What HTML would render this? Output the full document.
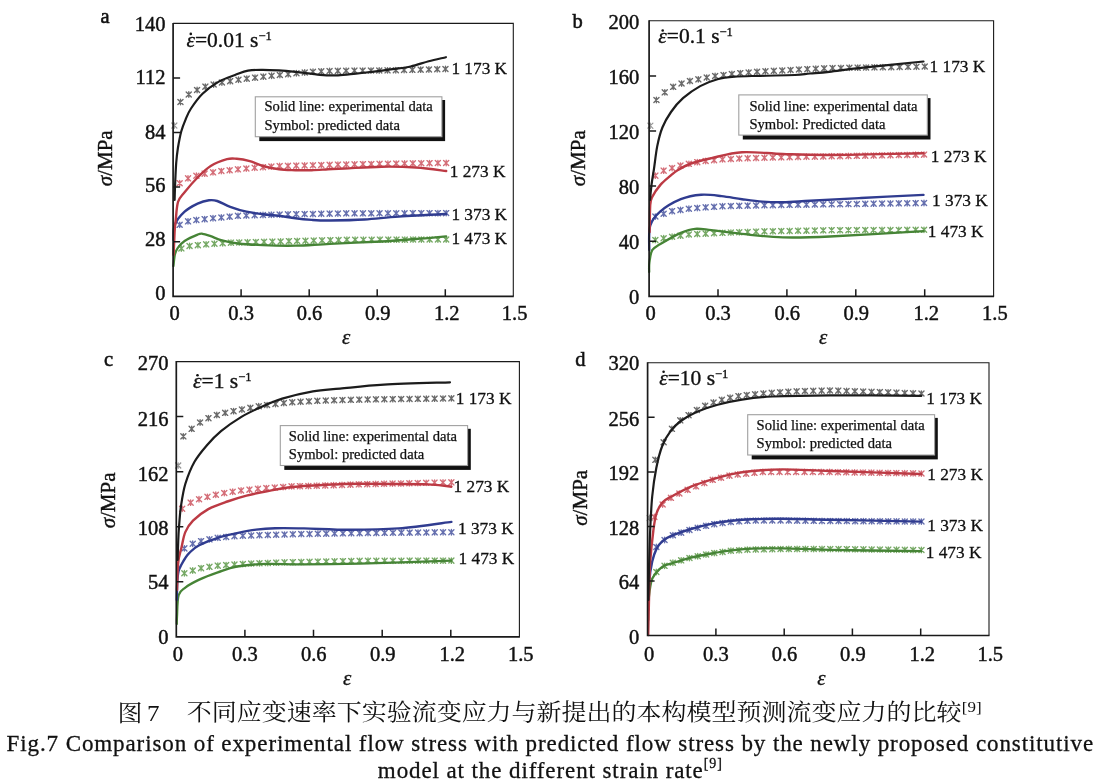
<!DOCTYPE html><html><head><meta charset="utf-8"><title>Fig.7</title><style>
html,body{margin:0;padding:0;background:#fff;}body{width:1104px;height:784px;overflow:hidden;position:relative;}
svg{position:absolute;left:0;top:0;display:block;filter:blur(0.3px);}
.t{font-family:"Liberation Serif", "Times New Roman", serif;fill:#111;}
.cap{position:absolute;left:0;width:1104px;text-align:center;color:#111;white-space:nowrap;}
.cj{font-family:"Liberation Serif", "Noto Serif CJK SC", serif;}
.tl{font-size:20.5px;stroke:#111;stroke-width:0.45px;}
.tc{stroke:#111;stroke-width:0.3px;}
.ti{font-size:21px;font-style:italic;stroke:#111;stroke-width:0.3px;}
.ty{font-size:21px;stroke:#111;stroke-width:0.4px;}
.tk{font-size:20.5px;stroke:#111;stroke-width:0.55px;}
.tr{font-size:21.5px;stroke:#111;stroke-width:0.35px;}
.tg{font-size:14.6px;stroke:#111;stroke-width:0.25px;}
.tt{font-size:17.3px;stroke:#111;stroke-width:0.3px;}
</style></head><body>
<svg width="1104" height="784" viewBox="0 0 1104 784">
<g><path d="M180.5 99.2v5.5M177.9 99.5l5.1 5.1M177.9 104.5l5.1 -5.1M188.8 91.7v5.5M186.2 91.9l5.1 5.1M186.2 97l5.1 -5.1M197.1 87.2v5.5M194.5 87.4l5.1 5.1M194.5 92.5l5.1 -5.1M205.3 83.9v5.5M202.8 84.1l5.1 5.1M202.8 89.2l5.1 -5.1M213.6 81.8v5.5M211.1 82l5.1 5.1M211.1 87.1l5.1 -5.1M221.9 79.8v5.5M219.4 80l5.1 5.1M219.4 85.1l5.1 -5.1M230.2 78.4v5.5M227.6 78.6l5.1 5.1M227.6 83.7l5.1 -5.1M238.5 77v5.5M235.9 77.2l5.1 5.1M235.9 82.3l5.1 -5.1M246.8 75.9v5.5M244.2 76.1l5.1 5.1M244.2 81.2l5.1 -5.1M255 74.9v5.5M252.5 75.1l5.1 5.1M252.5 80.2l5.1 -5.1M263.3 73.9v5.5M260.8 74.1l5.1 5.1M260.8 79.2l5.1 -5.1M271.6 73v5.5M269 73.2l5.1 5.1M269 78.3l5.1 -5.1M279.9 72.2v5.5M277.3 72.4l5.1 5.1M277.3 77.5l5.1 -5.1M288.2 71.4v5.5M285.6 71.6l5.1 5.1M285.6 76.7l5.1 -5.1M296.4 70.5v5.5M293.9 70.7l5.1 5.1M293.9 75.8l5.1 -5.1M304.7 69.7v5.5M302.2 69.9l5.1 5.1M302.2 75l5.1 -5.1M313 69v5.5M310.4 69.2l5.1 5.1M310.4 74.3l5.1 -5.1M321.3 68.6v5.5M318.7 68.8l5.1 5.1M318.7 73.9l5.1 -5.1M329.6 68.2v5.5M327 68.4l5.1 5.1M327 73.5l5.1 -5.1M337.8 68.1v5.5M335.3 68.3l5.1 5.1M335.3 73.4l5.1 -5.1M346.1 68v5.5M343.6 68.2l5.1 5.1M343.6 73.3l5.1 -5.1M354.4 67.9v5.5M351.9 68.1l5.1 5.1M351.9 73.2l5.1 -5.1M362.7 67.9v5.5M360.1 68.1l5.1 5.1M360.1 73.2l5.1 -5.1M371 67.8v5.5M368.4 68l5.1 5.1M368.4 73.1l5.1 -5.1M379.2 67.7v5.5M376.7 67.9l5.1 5.1M376.7 73l5.1 -5.1M387.5 67.6v5.5M385 67.8l5.1 5.1M385 72.9l5.1 -5.1M395.8 67.5v5.5M393.3 67.7l5.1 5.1M393.3 72.8l5.1 -5.1M404.1 67.3v5.5M401.5 67.5l5.1 5.1M401.5 72.6l5.1 -5.1M412.4 67.1v5.5M409.8 67.3l5.1 5.1M409.8 72.4l5.1 -5.1M420.7 66.9v5.5M418.1 67.1l5.1 5.1M418.1 72.2l5.1 -5.1M428.9 66.7v5.5M426.4 66.9l5.1 5.1M426.4 72l5.1 -5.1M437.2 66.5v5.5M434.7 66.7l5.1 5.1M434.7 71.8l5.1 -5.1M445.5 66.2v5.5M442.9 66.5l5.1 5.1M442.9 71.5l5.1 -5.1" fill="none" stroke="#505050" stroke-width="1.35" stroke-linecap="round" opacity="0.85"/><path d="M179.7 180.4v5.5M177.1 180.6l5.1 5.1M177.1 185.8l5.1 -5.1M188 175.6v5.5M185.5 175.8l5.1 5.1M185.5 180.9l5.1 -5.1M196.4 173v5.5M193.8 173.2l5.1 5.1M193.8 178.3l5.1 -5.1M204.7 170.9v5.5M202.1 171.1l5.1 5.1M202.1 176.2l5.1 -5.1M213 169.6v5.5M210.5 169.8l5.1 5.1M210.5 174.9l5.1 -5.1M221.3 168.3v5.5M218.8 168.5l5.1 5.1M218.8 173.6l5.1 -5.1M229.7 167.5v5.5M227.1 167.7l5.1 5.1M227.1 172.8l5.1 -5.1M238 166.6v5.5M235.4 166.8l5.1 5.1M235.4 171.9l5.1 -5.1M246.3 165.8v5.5M243.8 166l5.1 5.1M243.8 171.1l5.1 -5.1M254.7 165v5.5M252.1 165.2l5.1 5.1M252.1 170.3l5.1 -5.1M263 164.4v5.5M260.4 164.6l5.1 5.1M260.4 169.7l5.1 -5.1M271.3 163.8v5.5M268.8 164l5.1 5.1M268.8 169.1l5.1 -5.1M279.6 163.2v5.5M277.1 163.4l5.1 5.1M277.1 168.5l5.1 -5.1M288 163.1v5.5M285.4 163.3l5.1 5.1M285.4 168.4l5.1 -5.1M296.3 162.9v5.5M293.7 163.1l5.1 5.1M293.7 168.2l5.1 -5.1M304.6 162.7v5.5M302.1 162.9l5.1 5.1M302.1 168l5.1 -5.1M312.9 162.5v5.5M310.4 162.7l5.1 5.1M310.4 167.8l5.1 -5.1M321.3 162.3v5.5M318.7 162.5l5.1 5.1M318.7 167.6l5.1 -5.1M329.6 162.1v5.5M327.1 162.3l5.1 5.1M327.1 167.4l5.1 -5.1M337.9 161.9v5.5M335.4 162.1l5.1 5.1M335.4 167.2l5.1 -5.1M346.3 161.7v5.5M343.7 161.9l5.1 5.1M343.7 167l5.1 -5.1M354.6 161.6v5.5M352 161.8l5.1 5.1M352 166.9l5.1 -5.1M362.9 161.4v5.5M360.4 161.6l5.1 5.1M360.4 166.7l5.1 -5.1M371.2 161.3v5.5M368.7 161.5l5.1 5.1M368.7 166.6l5.1 -5.1M379.6 161.1v5.5M377 161.3l5.1 5.1M377 166.4l5.1 -5.1M387.9 161v5.5M385.4 161.2l5.1 5.1M385.4 166.3l5.1 -5.1M396.2 160.8v5.5M393.7 161l5.1 5.1M393.7 166.1l5.1 -5.1M404.6 160.7v5.5M402 160.9l5.1 5.1M402 166l5.1 -5.1M412.9 160.6v5.5M410.3 160.8l5.1 5.1M410.3 165.9l5.1 -5.1M421.2 160.5v5.5M418.7 160.7l5.1 5.1M418.7 165.8l5.1 -5.1M429.5 160.4v5.5M427 160.6l5.1 5.1M427 165.7l5.1 -5.1M437.9 160.3v5.5M435.3 160.5l5.1 5.1M435.3 165.6l5.1 -5.1M446.2 160.2v5.5M443.6 160.4l5.1 5.1M443.6 165.6l5.1 -5.1" fill="none" stroke="#cc5560" stroke-width="1.35" stroke-linecap="round" opacity="0.85"/><path d="M179.7 222.1v5.5M177.1 222.2l5.1 5.1M177.1 227.4l5.1 -5.1M188 218.6v5.5M185.5 218.8l5.1 5.1M185.5 223.9l5.1 -5.1M196.4 217.2v5.5M193.8 217.4l5.1 5.1M193.8 222.5l5.1 -5.1M204.7 216.4v5.5M202.1 216.6l5.1 5.1M202.1 221.7l5.1 -5.1M213 215.5v5.5M210.5 215.7l5.1 5.1M210.5 220.8l5.1 -5.1M221.3 214.7v5.5M218.8 214.9l5.1 5.1M218.8 220l5.1 -5.1M229.7 213.9v5.5M227.1 214.1l5.1 5.1M227.1 219.2l5.1 -5.1M238 213.1v5.5M235.4 213.3l5.1 5.1M235.4 218.4l5.1 -5.1M246.3 212.8v5.5M243.8 213l5.1 5.1M243.8 218.1l5.1 -5.1M254.7 212.5v5.5M252.1 212.7l5.1 5.1M252.1 217.8l5.1 -5.1M263 212.2v5.5M260.4 212.4l5.1 5.1M260.4 217.5l5.1 -5.1M271.3 212v5.5M268.8 212.2l5.1 5.1M268.8 217.3l5.1 -5.1M279.6 211.8v5.5M277.1 212l5.1 5.1M277.1 217.1l5.1 -5.1M288 211.6v5.5M285.4 211.8l5.1 5.1M285.4 216.9l5.1 -5.1M296.3 211.4v5.5M293.7 211.6l5.1 5.1M293.7 216.7l5.1 -5.1M304.6 211.3v5.5M302.1 211.5l5.1 5.1M302.1 216.6l5.1 -5.1M312.9 211.2v5.5M310.4 211.4l5.1 5.1M310.4 216.5l5.1 -5.1M321.3 211v5.5M318.7 211.2l5.1 5.1M318.7 216.3l5.1 -5.1M329.6 210.9v5.5M327.1 211.1l5.1 5.1M327.1 216.2l5.1 -5.1M337.9 210.8v5.5M335.4 211l5.1 5.1M335.4 216.1l5.1 -5.1M346.3 210.6v5.5M343.7 210.8l5.1 5.1M343.7 215.9l5.1 -5.1M354.6 210.6v5.5M352 210.8l5.1 5.1M352 215.9l5.1 -5.1M362.9 210.6v5.5M360.4 210.8l5.1 5.1M360.4 215.9l5.1 -5.1M371.2 210.6v5.5M368.7 210.8l5.1 5.1M368.7 215.9l5.1 -5.1M379.6 210.5v5.5M377 210.7l5.1 5.1M377 215.8l5.1 -5.1M387.9 210.5v5.5M385.4 210.7l5.1 5.1M385.4 215.8l5.1 -5.1M396.2 210.5v5.5M393.7 210.7l5.1 5.1M393.7 215.8l5.1 -5.1M404.6 210.5v5.5M402 210.7l5.1 5.1M402 215.8l5.1 -5.1M412.9 210.4v5.5M410.3 210.6l5.1 5.1M410.3 215.7l5.1 -5.1M421.2 210.4v5.5M418.7 210.6l5.1 5.1M418.7 215.7l5.1 -5.1M429.5 210.4v5.5M427 210.6l5.1 5.1M427 215.7l5.1 -5.1M437.9 210.4v5.5M435.3 210.6l5.1 5.1M435.3 215.7l5.1 -5.1M446.2 210.3v5.5M443.6 210.5l5.1 5.1M443.6 215.7l5.1 -5.1" fill="none" stroke="#4a56a0" stroke-width="1.35" stroke-linecap="round" opacity="0.85"/><path d="M181.3 245.7v5.5M178.8 245.8l5.1 5.1M178.8 251l5.1 -5.1M189.6 243.2v5.5M187 243.4l5.1 5.1M187 248.5l5.1 -5.1M197.9 242.4v5.5M195.3 242.6l5.1 5.1M195.3 247.7l5.1 -5.1M206.1 241.6v5.5M203.6 241.8l5.1 5.1M203.6 246.9l5.1 -5.1M214.4 241v5.5M211.9 241.2l5.1 5.1M211.9 246.3l5.1 -5.1M222.7 240.5v5.5M220.1 240.7l5.1 5.1M220.1 245.8l5.1 -5.1M231 239.9v5.5M228.4 240.1l5.1 5.1M228.4 245.2l5.1 -5.1M239.2 239.7v5.5M236.7 239.9l5.1 5.1M236.7 245l5.1 -5.1M247.5 239.5v5.5M245 239.7l5.1 5.1M245 244.8l5.1 -5.1M255.8 239.3v5.5M253.3 239.5l5.1 5.1M253.3 244.6l5.1 -5.1M264.1 239.1v5.5M261.5 239.3l5.1 5.1M261.5 244.4l5.1 -5.1M272.4 238.9v5.5M269.8 239.1l5.1 5.1M269.8 244.2l5.1 -5.1M280.6 238.7v5.5M278.1 238.9l5.1 5.1M278.1 244l5.1 -5.1M288.9 238.4v5.5M286.4 238.6l5.1 5.1M286.4 243.7l5.1 -5.1M297.2 238.2v5.5M294.6 238.4l5.1 5.1M294.6 243.5l5.1 -5.1M305.5 238v5.5M302.9 238.2l5.1 5.1M302.9 243.3l5.1 -5.1M313.8 237.8v5.5M311.2 238l5.1 5.1M311.2 243.1l5.1 -5.1M322 237.6v5.5M319.5 237.8l5.1 5.1M319.5 242.9l5.1 -5.1M330.3 237.4v5.5M327.8 237.6l5.1 5.1M327.8 242.7l5.1 -5.1M338.6 237.2v5.5M336 237.4l5.1 5.1M336 242.5l5.1 -5.1M346.9 237v5.5M344.3 237.2l5.1 5.1M344.3 242.3l5.1 -5.1M355.1 237v5.5M352.6 237.2l5.1 5.1M352.6 242.3l5.1 -5.1M363.4 237v5.5M360.9 237.2l5.1 5.1M360.9 242.3l5.1 -5.1M371.7 237v5.5M369.1 237.2l5.1 5.1M369.1 242.3l5.1 -5.1M380 236.9v5.5M377.4 237.1l5.1 5.1M377.4 242.2l5.1 -5.1M388.3 236.9v5.5M385.7 237.1l5.1 5.1M385.7 242.2l5.1 -5.1M396.5 236.9v5.5M394 237.1l5.1 5.1M394 242.2l5.1 -5.1M404.8 236.9v5.5M402.3 237.1l5.1 5.1M402.3 242.2l5.1 -5.1M413.1 236.8v5.5M410.5 237l5.1 5.1M410.5 242.1l5.1 -5.1M421.4 236.8v5.5M418.8 237l5.1 5.1M418.8 242.1l5.1 -5.1M429.6 236.8v5.5M427.1 237l5.1 5.1M427.1 242.1l5.1 -5.1M437.9 236.8v5.5M435.4 237l5.1 5.1M435.4 242.1l5.1 -5.1M446.2 236.8v5.5M443.6 236.9l5.1 5.1M443.6 242.1l5.1 -5.1" fill="none" stroke="#5e9a4a" stroke-width="1.35" stroke-linecap="round" opacity="0.85"/><path d="M174.3 122.8v5.5M171.8 123l5.1 5.1M171.8 128.1l5.1 -5.1M174.3 122.8v5.5M171.8 123l5.1 5.1M171.8 128.1l5.1 -5.1" fill="none" stroke="#505050" stroke-width="1.2" stroke-linecap="round" opacity="0.6"/><path d="M173.4 266C173.7 264 174.2 257.1 175 254C175.8 250.9 176.4 249.8 178 247.6C179.6 245.4 181.3 243.2 184.6 241C187.9 238.8 194.6 235.8 197.6 234.6C200.6 233.4 200.3 233.5 202.5 233.8C204.7 234.1 207.4 235.1 210.7 236.2C213.9 237.3 217.4 239.1 222 240.3C226.6 241.5 231.6 242.7 238.4 243.5C245.2 244.3 253.3 244.8 262.8 245.2C272.3 245.6 284.2 245.9 295.4 245.7C306.6 245.5 315.6 244.5 330 243.8C344.4 243.1 367.3 242.3 381.6 241.5C395.9 240.7 405.2 239.8 416 239C426.8 238.2 441.2 236.8 446.2 236.4" fill="none" stroke="#468436" stroke-width="2.3" stroke-linejoin="round" stroke-linecap="round"/><path d="M173.5 240C173.7 237.5 173 229.5 174.8 224.8C176.7 220.1 180.8 215.2 184.6 211.7C188.4 208.2 193.5 205.5 197.6 203.6C201.7 201.7 205.7 200.7 209 200.3C212.3 199.9 213.7 199.9 217.2 201C220.7 202.1 225.3 205 230.2 206.8C235.1 208.6 241.1 210.5 246.5 211.7C251.9 212.9 257.4 213.5 262.8 214.2C268.2 214.9 273.6 215.1 279 215.8C284.4 216.5 289.9 217.6 295.4 218.3C300.8 219 305.9 219.5 311.7 219.9C317.5 220.3 321.2 220.6 330 220.5C338.8 220.4 352.9 220.2 364.4 219.5C375.9 218.8 385.2 217.5 398.8 216.6C412.4 215.7 438.3 214.4 446.2 214" fill="none" stroke="#303c90" stroke-width="2.4" stroke-linejoin="round" stroke-linecap="round"/><path d="M173.6 255C173.8 251.2 174.3 237.6 174.6 232C174.9 226.4 175 226.5 175.6 221.5C176.2 216.5 176.5 206.9 178 202C179.5 197.1 181.3 196.3 184.6 192.2C187.9 188.1 193.2 181.9 197.6 177.5C201.9 173.1 205.8 169.1 210.7 166C215.6 162.9 222.7 160.4 227 159.2C231.3 158 232.9 158.5 236.7 158.8C240.5 159.1 245.5 160 249.8 161.2C254.2 162.4 257.9 164.7 262.8 166C267.7 167.3 273.6 168.6 279 169.3C284.4 170 289.9 170 295.4 170.2C300.8 170.3 306.3 170.3 311.7 170.2C317.1 170 322.6 169.6 328 169.3C333.4 169 335.5 168.9 344.4 168.5C353.3 168.1 369.7 166.9 381.6 166.7C393.5 166.5 405.2 166.8 416 167.5C426.8 168.2 441.2 170.4 446.2 171" fill="none" stroke="#bc3a44" stroke-width="2.4" stroke-linejoin="round" stroke-linecap="round"/><path d="M174.6 200C174.7 196.7 175 186.2 175.3 180C175.6 173.8 175.8 168.3 176.2 163C176.6 157.7 177.1 153.3 177.9 148C178.8 142.7 180 136.1 181.3 131.3C182.6 126.5 184.2 122.8 185.8 119C187.4 115.2 188.2 112.7 191 108.5C193.8 104.3 197.9 98.3 202.5 93.8C207.1 89.3 213.4 84.7 218.8 81.6C224.2 78.5 230.1 76.8 235 75C239.9 73.2 243.4 71.5 248 70.6C252.6 69.7 257.6 69.8 262.8 69.8C268 69.8 273.6 70.1 279 70.4C284.4 70.7 288.6 71.1 295.4 71.8C302.2 72.5 312.9 74.2 320 74.8C327.1 75.4 332 75.5 338 75.3C344 75.1 350 74.2 356 73.6C362 73 367.9 72.4 374 71.7C380.1 71 386.4 70.1 392.5 69.2C398.6 68.3 404.6 67.8 410.6 66.5C416.6 65.2 422.8 62.8 428.7 61.2C434.6 59.7 443 57.9 445.9 57.2" fill="none" stroke="#1c1c1c" stroke-width="2.2" stroke-linejoin="round" stroke-linecap="round"/><path d="M173.1 23.4H513.3 V296.3" fill="none" stroke="#1a1a1a" stroke-width="1.1"/><path d="M173.1 22.9V296.3H513.8" fill="none" stroke="#1a1a1a" stroke-width="1.7"/><path d="M173.1 241.7h7M173.1 187.1h7M173.1 132.6h7M173.1 78h7M241.1 296.3v-7M309.2 296.3v-7M377.2 296.3v-7M445.3 296.3v-7" stroke="#1a1a1a" stroke-width="1.5" fill="none"/><text class="t tl" x="165.6" y="300.4" text-anchor="end">0</text><text class="t tl" x="165.6" y="246.1" text-anchor="end">28</text><text class="t tl" x="165.6" y="192.3" text-anchor="end">56</text><text class="t tl" x="165.6" y="138.7" text-anchor="end">84</text><text class="t tl" x="165.6" y="84.4" text-anchor="end">112</text><text class="t tl" x="165.6" y="30.8" text-anchor="end">140</text><text class="t tl" x="174.6" y="319.7" text-anchor="middle">0</text><text class="t tl" x="241.1" y="319.7" text-anchor="middle">0.3</text><text class="t tl" x="309.5" y="319.7" text-anchor="middle">0.6</text><text class="t tl" x="377.7" y="319.7" text-anchor="middle">0.9</text><text class="t tl" x="446.8" y="319.7" text-anchor="middle">1.2</text><text class="t tl" x="514.6" y="319.7" text-anchor="middle">1.5</text><text class="t ti" x="342.1" y="344">ε</text><text class="t ty" x="112" y="158.3" text-anchor="middle" transform="rotate(-90 112 158.3)"><tspan font-style="italic">σ</tspan>/MPa</text><text class="t tk" x="100.6" y="23.2">a</text><text class="t tr" x="186.4" y="46.6"><tspan font-style="italic">ε</tspan>=0.01 s<tspan font-size="12.5" dy="-6.8">−1</tspan></text><circle cx="190.8" cy="33.9" r="1.3" fill="#111"/><rect x="259.3" y="100" width="185.8" height="41.1" fill="#111"/><rect x="255.3" y="96.8" width="186.6" height="39.9" fill="#fff" stroke="#a0a0a0" stroke-width="1.1"/><text class="t tg" x="264.5" y="111.3">Solid line: experimental data</text><text class="t tg" x="264.5" y="129.8">Symbol: predicted data</text><text class="t tt" x="451.4" y="74">1 173 K</text><text class="t tt" x="449.7" y="176.5">1 273 K</text><text class="t tt" x="451.4" y="219.5">1 373 K</text><text class="t tt" x="451.4" y="244.1">1 473 K</text></g>
<g><path d="M656.4 97.2v5.5M653.9 97.4l5.1 5.1M653.9 102.5l5.1 -5.1M664.8 89.6v5.5M662.2 89.8l5.1 5.1M662.2 94.9l5.1 -5.1M673.2 84.1v5.5M670.6 84.3l5.1 5.1M670.6 89.4l5.1 -5.1M681.6 80.8v5.5M679 81l5.1 5.1M679 86.1l5.1 -5.1M689.9 78.2v5.5M687.4 78.4l5.1 5.1M687.4 83.5l5.1 -5.1M698.3 76.6v5.5M695.8 76.8l5.1 5.1M695.8 81.9l5.1 -5.1M706.7 74.8v5.5M704.2 75l5.1 5.1M704.2 80.1l5.1 -5.1M715.1 73.2v5.5M712.6 73.4l5.1 5.1M712.6 78.5l5.1 -5.1M723.5 72.3v5.5M721 72.5l5.1 5.1M721 77.6l5.1 -5.1M731.9 71.2v5.5M729.3 71.4l5.1 5.1M729.3 76.5l5.1 -5.1M740.3 70.4v5.5M737.7 70.6l5.1 5.1M737.7 75.7l5.1 -5.1M748.7 69.7v5.5M746.1 69.9l5.1 5.1M746.1 75l5.1 -5.1M757 69v5.5M754.5 69.2l5.1 5.1M754.5 74.3l5.1 -5.1M765.4 68.5v5.5M762.9 68.7l5.1 5.1M762.9 73.8l5.1 -5.1M773.8 68.1v5.5M771.3 68.3l5.1 5.1M771.3 73.4l5.1 -5.1M782.2 67.7v5.5M779.7 67.9l5.1 5.1M779.7 73l5.1 -5.1M790.6 67.3v5.5M788 67.5l5.1 5.1M788 72.6l5.1 -5.1M799 66.8v5.5M796.4 67l5.1 5.1M796.4 72.1l5.1 -5.1M807.4 66.4v5.5M804.8 66.6l5.1 5.1M804.8 71.7l5.1 -5.1M815.8 66v5.5M813.2 66.2l5.1 5.1M813.2 71.3l5.1 -5.1M824.1 65.6v5.5M821.6 65.8l5.1 5.1M821.6 70.9l5.1 -5.1M832.5 65.3v5.5M830 65.5l5.1 5.1M830 70.6l5.1 -5.1M840.9 65.2v5.5M838.4 65.4l5.1 5.1M838.4 70.5l5.1 -5.1M849.3 65v5.5M846.8 65.2l5.1 5.1M846.8 70.3l5.1 -5.1M857.7 64.9v5.5M855.1 65.1l5.1 5.1M855.1 70.2l5.1 -5.1M866.1 64.8v5.5M863.5 65l5.1 5.1M863.5 70.1l5.1 -5.1M874.5 64.6v5.5M871.9 64.8l5.1 5.1M871.9 69.9l5.1 -5.1M882.9 64.5v5.5M880.3 64.7l5.1 5.1M880.3 69.8l5.1 -5.1M891.2 64.4v5.5M888.7 64.6l5.1 5.1M888.7 69.7l5.1 -5.1M899.6 64.2v5.5M897.1 64.4l5.1 5.1M897.1 69.5l5.1 -5.1M908 64.1v5.5M905.5 64.3l5.1 5.1M905.5 69.4l5.1 -5.1M916.4 64v5.5M913.9 64.2l5.1 5.1M913.9 69.3l5.1 -5.1M924.8 63.8v5.5M922.2 64l5.1 5.1M922.2 69.1l5.1 -5.1" fill="none" stroke="#505050" stroke-width="1.35" stroke-linecap="round" opacity="0.85"/><path d="M655.3 172.9v5.5M652.8 173.1l5.1 5.1M652.8 178.2l5.1 -5.1M663.7 167.9v5.5M661.1 168.1l5.1 5.1M661.1 173.2l5.1 -5.1M672.1 165.3v5.5M669.5 165.5l5.1 5.1M669.5 170.6l5.1 -5.1M680.5 162.8v5.5M677.9 163l5.1 5.1M677.9 168.1l5.1 -5.1M688.9 161.1v5.5M686.3 161.3l5.1 5.1M686.3 166.4l5.1 -5.1M697.3 159.4v5.5M694.7 159.6l5.1 5.1M694.7 164.7l5.1 -5.1M705.7 158.2v5.5M703.1 158.4l5.1 5.1M703.1 163.5l5.1 -5.1M714.1 157.4v5.5M711.5 157.6l5.1 5.1M711.5 162.7l5.1 -5.1M722.5 156.6v5.5M719.9 156.8l5.1 5.1M719.9 161.9l5.1 -5.1M730.9 156.2v5.5M728.3 156.4l5.1 5.1M728.3 161.5l5.1 -5.1M739.3 155.8v5.5M736.7 156l5.1 5.1M736.7 161.1l5.1 -5.1M747.7 155.5v5.5M745.1 155.7l5.1 5.1M745.1 160.8l5.1 -5.1M756.1 155.3v5.5M753.5 155.5l5.1 5.1M753.5 160.6l5.1 -5.1M764.5 155v5.5M761.9 155.2l5.1 5.1M761.9 160.3l5.1 -5.1M772.9 154.8v5.5M770.3 155l5.1 5.1M770.3 160.1l5.1 -5.1M781.3 154.6v5.5M778.7 154.8l5.1 5.1M778.7 159.9l5.1 -5.1M789.6 154.4v5.5M787.1 154.6l5.1 5.1M787.1 159.7l5.1 -5.1M798 154.2v5.5M795.5 154.4l5.1 5.1M795.5 159.5l5.1 -5.1M806.4 154v5.5M803.9 154.2l5.1 5.1M803.9 159.3l5.1 -5.1M814.8 153.9v5.5M812.3 154.1l5.1 5.1M812.3 159.2l5.1 -5.1M823.2 153.7v5.5M820.7 153.9l5.1 5.1M820.7 159l5.1 -5.1M831.6 153.5v5.5M829.1 153.7l5.1 5.1M829.1 158.8l5.1 -5.1M840 153.4v5.5M837.5 153.6l5.1 5.1M837.5 158.7l5.1 -5.1M848.4 153.2v5.5M845.9 153.4l5.1 5.1M845.9 158.5l5.1 -5.1M856.8 153.1v5.5M854.3 153.3l5.1 5.1M854.3 158.4l5.1 -5.1M865.2 152.9v5.5M862.7 153.1l5.1 5.1M862.7 158.2l5.1 -5.1M873.6 152.8v5.5M871.1 153l5.1 5.1M871.1 158.1l5.1 -5.1M882 152.6v5.5M879.5 152.8l5.1 5.1M879.5 157.9l5.1 -5.1M890.4 152.5v5.5M887.9 152.7l5.1 5.1M887.9 157.8l5.1 -5.1M898.8 152.3v5.5M896.3 152.5l5.1 5.1M896.3 157.6l5.1 -5.1M907.2 152.2v5.5M904.7 152.4l5.1 5.1M904.7 157.5l5.1 -5.1M915.6 152v5.5M913.1 152.2l5.1 5.1M913.1 157.3l5.1 -5.1M924 151.8v5.5M921.5 152l5.1 5.1M921.5 157.2l5.1 -5.1" fill="none" stroke="#cc5560" stroke-width="1.35" stroke-linecap="round" opacity="0.85"/><path d="M655.3 213.8v5.5M652.8 213.9l5.1 5.1M652.8 219.1l5.1 -5.1M663.7 211v5.5M661.1 211.2l5.1 5.1M661.1 216.3l5.1 -5.1M672.1 208.4v5.5M669.5 208.6l5.1 5.1M669.5 213.7l5.1 -5.1M680.5 207.2v5.5M677.9 207.4l5.1 5.1M677.9 212.5l5.1 -5.1M688.9 206v5.5M686.3 206.2l5.1 5.1M686.3 211.3l5.1 -5.1M697.3 205.2v5.5M694.7 205.4l5.1 5.1M694.7 210.5l5.1 -5.1M705.7 204.6v5.5M703.1 204.8l5.1 5.1M703.1 209.9l5.1 -5.1M714.1 204.1v5.5M711.5 204.3l5.1 5.1M711.5 209.4l5.1 -5.1M722.5 203.5v5.5M719.9 203.7l5.1 5.1M719.9 208.8l5.1 -5.1M730.9 203.3v5.5M728.3 203.5l5.1 5.1M728.3 208.6l5.1 -5.1M739.3 203.1v5.5M736.7 203.3l5.1 5.1M736.7 208.4l5.1 -5.1M747.7 202.9v5.5M745.1 203.1l5.1 5.1M745.1 208.2l5.1 -5.1M756.1 202.7v5.5M753.5 202.9l5.1 5.1M753.5 208l5.1 -5.1M764.5 202.5v5.5M761.9 202.7l5.1 5.1M761.9 207.8l5.1 -5.1M772.9 202.4v5.5M770.3 202.6l5.1 5.1M770.3 207.7l5.1 -5.1M781.3 202.3v5.5M778.7 202.5l5.1 5.1M778.7 207.6l5.1 -5.1M789.6 202.1v5.5M787.1 202.3l5.1 5.1M787.1 207.4l5.1 -5.1M798 202v5.5M795.5 202.2l5.1 5.1M795.5 207.3l5.1 -5.1M806.4 201.9v5.5M803.9 202.1l5.1 5.1M803.9 207.2l5.1 -5.1M814.8 201.8v5.5M812.3 202l5.1 5.1M812.3 207.1l5.1 -5.1M823.2 201.6v5.5M820.7 201.8l5.1 5.1M820.7 206.9l5.1 -5.1M831.6 201.5v5.5M829.1 201.7l5.1 5.1M829.1 206.8l5.1 -5.1M840 201.4v5.5M837.5 201.6l5.1 5.1M837.5 206.7l5.1 -5.1M848.4 201.3v5.5M845.9 201.5l5.1 5.1M845.9 206.6l5.1 -5.1M856.8 201.2v5.5M854.3 201.4l5.1 5.1M854.3 206.5l5.1 -5.1M865.2 201.1v5.5M862.7 201.3l5.1 5.1M862.7 206.4l5.1 -5.1M873.6 200.9v5.5M871.1 201.1l5.1 5.1M871.1 206.2l5.1 -5.1M882 200.8v5.5M879.5 201l5.1 5.1M879.5 206.1l5.1 -5.1M890.4 200.7v5.5M887.9 200.9l5.1 5.1M887.9 206l5.1 -5.1M898.8 200.6v5.5M896.3 200.8l5.1 5.1M896.3 205.9l5.1 -5.1M907.2 200.5v5.5M904.7 200.7l5.1 5.1M904.7 205.8l5.1 -5.1M915.6 200.4v5.5M913.1 200.6l5.1 5.1M913.1 205.7l5.1 -5.1M924 200.2v5.5M921.5 200.4l5.1 5.1M921.5 205.6l5.1 -5.1" fill="none" stroke="#4a56a0" stroke-width="1.35" stroke-linecap="round" opacity="0.85"/><path d="M655.3 237.2v5.5M652.8 237.4l5.1 5.1M652.8 242.6l5.1 -5.1M663.7 235.5v5.5M661.1 235.7l5.1 5.1M661.1 240.8l5.1 -5.1M672.1 234v5.5M669.5 234.2l5.1 5.1M669.5 239.3l5.1 -5.1M680.5 232.9v5.5M677.9 233.1l5.1 5.1M677.9 238.2l5.1 -5.1M688.9 231.8v5.5M686.3 232l5.1 5.1M686.3 237.1l5.1 -5.1M697.3 231.3v5.5M694.7 231.5l5.1 5.1M694.7 236.6l5.1 -5.1M705.7 230.9v5.5M703.1 231.1l5.1 5.1M703.1 236.2l5.1 -5.1M714.1 230.5v5.5M711.5 230.7l5.1 5.1M711.5 235.8l5.1 -5.1M722.5 230.1v5.5M719.9 230.3l5.1 5.1M719.9 235.4l5.1 -5.1M730.9 229.8v5.5M728.3 230l5.1 5.1M728.3 235.1l5.1 -5.1M739.3 229.5v5.5M736.7 229.7l5.1 5.1M736.7 234.8l5.1 -5.1M747.7 229.2v5.5M745.1 229.4l5.1 5.1M745.1 234.5l5.1 -5.1M756.1 228.9v5.5M753.5 229.1l5.1 5.1M753.5 234.2l5.1 -5.1M764.5 228.6v5.5M761.9 228.8l5.1 5.1M761.9 233.9l5.1 -5.1M772.9 228.5v5.5M770.3 228.7l5.1 5.1M770.3 233.8l5.1 -5.1M781.3 228.3v5.5M778.7 228.5l5.1 5.1M778.7 233.6l5.1 -5.1M789.6 228.2v5.5M787.1 228.4l5.1 5.1M787.1 233.5l5.1 -5.1M798 228v5.5M795.5 228.2l5.1 5.1M795.5 233.3l5.1 -5.1M806.4 227.9v5.5M803.9 228.1l5.1 5.1M803.9 233.2l5.1 -5.1M814.8 227.7v5.5M812.3 227.9l5.1 5.1M812.3 233l5.1 -5.1M823.2 227.6v5.5M820.7 227.8l5.1 5.1M820.7 232.9l5.1 -5.1M831.6 227.4v5.5M829.1 227.6l5.1 5.1M829.1 232.7l5.1 -5.1M840 227.4v5.5M837.5 227.6l5.1 5.1M837.5 232.7l5.1 -5.1M848.4 227.4v5.5M845.9 227.6l5.1 5.1M845.9 232.7l5.1 -5.1M856.8 227.3v5.5M854.3 227.5l5.1 5.1M854.3 232.6l5.1 -5.1M865.2 227.3v5.5M862.7 227.5l5.1 5.1M862.7 232.6l5.1 -5.1M873.6 227.3v5.5M871.1 227.5l5.1 5.1M871.1 232.6l5.1 -5.1M882 227.2v5.5M879.5 227.4l5.1 5.1M879.5 232.5l5.1 -5.1M890.4 227.2v5.5M887.9 227.4l5.1 5.1M887.9 232.5l5.1 -5.1M898.8 227.2v5.5M896.3 227.4l5.1 5.1M896.3 232.5l5.1 -5.1M907.2 227.1v5.5M904.7 227.3l5.1 5.1M904.7 232.4l5.1 -5.1M915.6 227.1v5.5M913.1 227.3l5.1 5.1M913.1 232.4l5.1 -5.1M924 227.1v5.5M921.5 227.2l5.1 5.1M921.5 232.4l5.1 -5.1" fill="none" stroke="#5e9a4a" stroke-width="1.35" stroke-linecap="round" opacity="0.85"/><path d="M650.3 123v5.5M647.8 123.2l5.1 5.1M647.8 128.2l5.1 -5.1M650.3 123v5.5M647.8 123.2l5.1 5.1M647.8 128.2l5.1 -5.1" fill="none" stroke="#505050" stroke-width="1.2" stroke-linecap="round" opacity="0.6"/><path d="M649.2 272C649.2 270.4 648.9 266 649.4 262.4C649.9 258.8 650.4 253.2 652.2 250.2C654 247.1 655.6 247 660.4 244.1C665.2 241.2 675 235.4 680.8 232.9C686.6 230.4 690 229.2 695.1 228.8C700.2 228.4 703.6 229.3 711.4 230.2C719.2 231 730.1 232.7 742 233.9C753.9 235.1 768.3 237 782.9 237.4C797.5 237.8 806.4 237.6 829.8 236.5C853.2 235.4 907.9 232 923.5 231.1" fill="none" stroke="#468436" stroke-width="2.3" stroke-linejoin="round" stroke-linecap="round"/><path d="M649.3 250C649.4 245.9 648.4 232.1 650.2 225.7C652.1 219.3 655.3 215.8 660.4 211.4C665.5 207 674 202 680.8 199.2C687.6 196.4 694.4 195.2 701.2 194.7C708 194.2 714.8 195.3 721.6 196.1C728.4 196.8 735.2 198.3 742 199.2C748.8 200.1 755.6 201.1 762.4 201.6C769.2 202.1 775 202.3 782.9 202.2C790.8 202.1 797 201.5 810 200.8C823 200.1 842.1 199 861 198C879.9 197 913.1 195.4 923.5 194.9" fill="none" stroke="#303c90" stroke-width="2.4" stroke-linejoin="round" stroke-linecap="round"/><path d="M649.6 232C649.7 227.6 649.8 211.1 650.2 205.3C650.6 199.5 650.5 200.4 652.2 197C653.9 193.6 657.3 188.5 660.4 184.9C663.5 181.3 667.7 178.2 670.6 175.7C673.5 173.2 674.5 172 677.9 170C681.3 168 685.4 165.5 691 163.5C696.6 161.5 702.9 160.1 711.4 158.2C719.9 156.3 730.1 152.9 742 152.2C753.9 151.5 768.3 153.5 782.9 154C797.5 154.5 806.4 155.1 829.8 155C853.2 154.9 907.9 153.6 923.5 153.3" fill="none" stroke="#bc3a44" stroke-width="2.4" stroke-linejoin="round" stroke-linecap="round"/><path d="M650 200C650.2 197.5 650.9 190 651.5 185C652.1 180 652.8 176.4 653.8 170C654.8 163.6 655.8 153.5 657.2 146.4C658.6 139.3 660.1 133.2 662.4 127.5C664.7 121.8 667.6 116.9 671 112C674.4 107.1 678.1 102.5 683 98.2C687.9 93.9 694.5 89.2 700.2 86.1C706 82.9 711.8 80.9 717.5 79.3C723.2 77.7 727.5 77.3 734.7 76.7C741.9 76.1 750.5 76.1 760.5 75.8C770.5 75.5 786.6 75.4 794.9 75C803.1 74.6 804.3 74 810 73.5C815.7 73 820.8 72.7 829.3 71.8C837.8 70.9 845.3 69.6 861 67.9C876.7 66.2 913.1 62.6 923.5 61.5" fill="none" stroke="#1c1c1c" stroke-width="2.2" stroke-linejoin="round" stroke-linecap="round"/><path d="M649.1 20.8H993.6 V296.3" fill="none" stroke="#1a1a1a" stroke-width="1.1"/><path d="M649.1 20.3V296.3H994.1" fill="none" stroke="#1a1a1a" stroke-width="1.7"/><path d="M649.1 241.2h7M649.1 186.1h7M649.1 131h7M649.1 75.9h7M718 296.3v-7M786.9 296.3v-7M855.8 296.3v-7M924.7 296.3v-7" stroke="#1a1a1a" stroke-width="1.5" fill="none"/><text class="t tl" x="639.3" y="303.5" text-anchor="end">0</text><text class="t tl" x="639.3" y="249" text-anchor="end">40</text><text class="t tl" x="639.3" y="193.9" text-anchor="end">80</text><text class="t tl" x="639.3" y="138.9" text-anchor="end">120</text><text class="t tl" x="639.3" y="83.7" text-anchor="end">160</text><text class="t tl" x="639.3" y="28.7" text-anchor="end">200</text><text class="t tl" x="650.6" y="319.8" text-anchor="middle">0</text><text class="t tl" x="718" y="319.8" text-anchor="middle">0.3</text><text class="t tl" x="787.2" y="319.8" text-anchor="middle">0.6</text><text class="t tl" x="856.3" y="319.8" text-anchor="middle">0.9</text><text class="t tl" x="926.2" y="319.8" text-anchor="middle">1.2</text><text class="t tl" x="994.9" y="319.8" text-anchor="middle">1.5</text><text class="t ti" x="819" y="343.9">ε</text><text class="t ty" x="584.7" y="158.2" text-anchor="middle" transform="rotate(-90 584.7 158.2)"><tspan font-style="italic">σ</tspan>/MPa</text><text class="t tk" x="572.4" y="27.6">b</text><text class="t tr" x="658.3" y="43.2"><tspan font-style="italic">ε</tspan>=0.1 s<tspan font-size="12.5" dy="-6.8">−1</tspan></text><circle cx="662.7" cy="30.5" r="1.3" fill="#111"/><rect x="742.8" y="98.1" width="187.7" height="41.4" fill="#111"/><rect x="738.8" y="94.9" width="188.5" height="40.2" fill="#fff" stroke="#a0a0a0" stroke-width="1.1"/><text class="t tg" x="749.4" y="110.6">Solid line: experimental data</text><text class="t tg" x="749.4" y="129.1">Symbol: Predicted data</text><text class="t tt" x="929.6" y="71.7">1 173 K</text><text class="t tt" x="930.8" y="162.2">1 273 K</text><text class="t tt" x="932.1" y="206.1">1 373 K</text><text class="t tt" x="927.8" y="236.7">1 473 K</text></g>
<g><path d="M183.3 433.6v5.5M180.8 433.8l5.1 5.1M180.8 438.9l5.1 -5.1M191.7 426.1v5.5M189.1 426.3l5.1 5.1M189.1 431.4l5.1 -5.1M200.1 419.7v5.5M197.5 419.9l5.1 5.1M197.5 425l5.1 -5.1M208.4 415.4v5.5M205.9 415.6l5.1 5.1M205.9 420.7l5.1 -5.1M216.8 412.2v5.5M214.3 412.4l5.1 5.1M214.3 417.5l5.1 -5.1M225.2 410.1v5.5M222.6 410.3l5.1 5.1M222.6 415.4l5.1 -5.1M233.6 408.4v5.5M231 408.6l5.1 5.1M231 413.7l5.1 -5.1M241.9 406.7v5.5M239.4 406.9l5.1 5.1M239.4 412l5.1 -5.1M250.3 405.1v5.5M247.8 405.3l5.1 5.1M247.8 410.4l5.1 -5.1M258.7 403.5v5.5M256.2 403.7l5.1 5.1M256.2 408.8l5.1 -5.1M267.1 402.3v5.5M264.5 402.5l5.1 5.1M264.5 407.6l5.1 -5.1M275.5 401.2v5.5M272.9 401.4l5.1 5.1M272.9 406.5l5.1 -5.1M283.8 400.3v5.5M281.3 400.5l5.1 5.1M281.3 405.6l5.1 -5.1M292.2 399.5v5.5M289.7 399.7l5.1 5.1M289.7 404.8l5.1 -5.1M300.6 399v5.5M298 399.2l5.1 5.1M298 404.3l5.1 -5.1M309 398.6v5.5M306.4 398.8l5.1 5.1M306.4 403.9l5.1 -5.1M317.4 398.1v5.5M314.8 398.3l5.1 5.1M314.8 403.4l5.1 -5.1M325.7 397.8v5.5M323.2 398l5.1 5.1M323.2 403.1l5.1 -5.1M334.1 397.5v5.5M331.6 397.7l5.1 5.1M331.6 402.8l5.1 -5.1M342.5 397.3v5.5M339.9 397.5l5.1 5.1M339.9 402.6l5.1 -5.1M350.9 397.1v5.5M348.3 397.3l5.1 5.1M348.3 402.4l5.1 -5.1M359.2 396.9v5.5M356.7 397.1l5.1 5.1M356.7 402.2l5.1 -5.1M367.6 396.7v5.5M365.1 396.9l5.1 5.1M365.1 402l5.1 -5.1M376 396.6v5.5M373.4 396.8l5.1 5.1M373.4 401.9l5.1 -5.1M384.4 396.5v5.5M381.8 396.7l5.1 5.1M381.8 401.8l5.1 -5.1M392.8 396.4v5.5M390.2 396.6l5.1 5.1M390.2 401.7l5.1 -5.1M401.1 396.3v5.5M398.6 396.5l5.1 5.1M398.6 401.6l5.1 -5.1M409.5 396.2v5.5M407 396.4l5.1 5.1M407 401.5l5.1 -5.1M417.9 396.1v5.5M415.3 396.3l5.1 5.1M415.3 401.4l5.1 -5.1M426.3 396v5.5M423.7 396.2l5.1 5.1M423.7 401.3l5.1 -5.1M434.6 395.9v5.5M432.1 396.1l5.1 5.1M432.1 401.2l5.1 -5.1M443 395.8v5.5M440.5 396l5.1 5.1M440.5 401.1l5.1 -5.1M451.4 395.6v5.5M448.8 395.8l5.1 5.1M448.8 400.9l5.1 -5.1" fill="none" stroke="#505050" stroke-width="1.35" stroke-linecap="round" opacity="0.85"/><path d="M182.2 506.1v5.5M179.6 506.2l5.1 5.1M179.6 511.4l5.1 -5.1M190.6 499.9v5.5M188.1 500.1l5.1 5.1M188.1 505.2l5.1 -5.1M199 496.5v5.5M196.5 496.7l5.1 5.1M196.5 501.8l5.1 -5.1M207.4 494.1v5.5M204.9 494.3l5.1 5.1M204.9 499.4l5.1 -5.1M215.8 492v5.5M213.3 492.2l5.1 5.1M213.3 497.3l5.1 -5.1M224.3 490.3v5.5M221.7 490.5l5.1 5.1M221.7 495.6l5.1 -5.1M232.7 489v5.5M230.1 489.2l5.1 5.1M230.1 494.3l5.1 -5.1M241.1 487.7v5.5M238.5 487.9l5.1 5.1M238.5 493l5.1 -5.1M249.5 486.9v5.5M246.9 487.1l5.1 5.1M246.9 492.2l5.1 -5.1M257.9 486v5.5M255.4 486.2l5.1 5.1M255.4 491.3l5.1 -5.1M266.3 485.3v5.5M263.8 485.5l5.1 5.1M263.8 490.6l5.1 -5.1M274.7 484.8v5.5M272.2 485l5.1 5.1M272.2 490.1l5.1 -5.1M283.1 484.2v5.5M280.6 484.4l5.1 5.1M280.6 489.5l5.1 -5.1M291.6 483.6v5.5M289 483.8l5.1 5.1M289 488.9l5.1 -5.1M300 483.4v5.5M297.4 483.6l5.1 5.1M297.4 488.7l5.1 -5.1M308.4 483.2v5.5M305.8 483.4l5.1 5.1M305.8 488.5l5.1 -5.1M316.8 483v5.5M314.2 483.2l5.1 5.1M314.2 488.3l5.1 -5.1M325.2 482.7v5.5M322.7 482.9l5.1 5.1M322.7 488l5.1 -5.1M333.6 482.5v5.5M331.1 482.7l5.1 5.1M331.1 487.8l5.1 -5.1M342 482.2v5.5M339.5 482.4l5.1 5.1M339.5 487.5l5.1 -5.1M350.4 481.9v5.5M347.9 482.1l5.1 5.1M347.9 487.2l5.1 -5.1M358.9 481.6v5.5M356.3 481.8l5.1 5.1M356.3 486.9l5.1 -5.1M367.3 481.4v5.5M364.7 481.6l5.1 5.1M364.7 486.7l5.1 -5.1M375.7 481.2v5.5M373.1 481.4l5.1 5.1M373.1 486.5l5.1 -5.1M384.1 481v5.5M381.5 481.2l5.1 5.1M381.5 486.3l5.1 -5.1M392.5 480.8v5.5M390 481l5.1 5.1M390 486.1l5.1 -5.1M400.9 480.7v5.5M398.4 480.9l5.1 5.1M398.4 486l5.1 -5.1M409.3 480.5v5.5M406.8 480.7l5.1 5.1M406.8 485.8l5.1 -5.1M417.8 480.3v5.5M415.2 480.5l5.1 5.1M415.2 485.6l5.1 -5.1M426.2 480.1v5.5M423.6 480.3l5.1 5.1M423.6 485.4l5.1 -5.1M434.6 479.9v5.5M432 480.1l5.1 5.1M432 485.2l5.1 -5.1M443 479.7v5.5M440.4 479.9l5.1 5.1M440.4 485l5.1 -5.1M451.4 479.6v5.5M448.8 479.8l5.1 5.1M448.8 484.9l5.1 -5.1" fill="none" stroke="#cc5560" stroke-width="1.35" stroke-linecap="round" opacity="0.85"/><path d="M184.4 545.6v5.5M181.8 545.9l5.1 5.1M181.8 550.9l5.1 -5.1M192.7 541v5.5M190.2 541.2l5.1 5.1M190.2 546.3l5.1 -5.1M201.1 538.4v5.5M198.5 538.6l5.1 5.1M198.5 543.7l5.1 -5.1M209.4 536.6v5.5M206.9 536.8l5.1 5.1M206.9 541.9l5.1 -5.1M217.8 535.1v5.5M215.2 535.3l5.1 5.1M215.2 540.4l5.1 -5.1M226.1 534.2v5.5M223.6 534.4l5.1 5.1M223.6 539.5l5.1 -5.1M234.5 533.4v5.5M231.9 533.6l5.1 5.1M231.9 538.7l5.1 -5.1M242.8 533v5.5M240.3 533.2l5.1 5.1M240.3 538.3l5.1 -5.1M251.2 532.7v5.5M248.6 532.9l5.1 5.1M248.6 538l5.1 -5.1M259.5 532.4v5.5M256.9 532.6l5.1 5.1M256.9 537.7l5.1 -5.1M267.8 532.2v5.5M265.3 532.4l5.1 5.1M265.3 537.5l5.1 -5.1M276.2 532v5.5M273.6 532.2l5.1 5.1M273.6 537.3l5.1 -5.1M284.5 531.8v5.5M282 532l5.1 5.1M282 537.1l5.1 -5.1M292.9 531.5v5.5M290.3 531.7l5.1 5.1M290.3 536.8l5.1 -5.1M301.2 531.3v5.5M298.7 531.5l5.1 5.1M298.7 536.6l5.1 -5.1M309.6 531.2v5.5M307 531.4l5.1 5.1M307 536.5l5.1 -5.1M317.9 531v5.5M315.3 531.2l5.1 5.1M315.3 536.3l5.1 -5.1M326.2 530.9v5.5M323.7 531.1l5.1 5.1M323.7 536.2l5.1 -5.1M334.6 530.8v5.5M332 531l5.1 5.1M332 536.1l5.1 -5.1M342.9 530.6v5.5M340.4 530.8l5.1 5.1M340.4 535.9l5.1 -5.1M351.3 530.5v5.5M348.7 530.7l5.1 5.1M348.7 535.8l5.1 -5.1M359.6 530.4v5.5M357.1 530.6l5.1 5.1M357.1 535.7l5.1 -5.1M368 530.3v5.5M365.4 530.5l5.1 5.1M365.4 535.6l5.1 -5.1M376.3 530.2v5.5M373.8 530.4l5.1 5.1M373.8 535.5l5.1 -5.1M384.6 530.1v5.5M382.1 530.3l5.1 5.1M382.1 535.4l5.1 -5.1M393 530v5.5M390.4 530.2l5.1 5.1M390.4 535.3l5.1 -5.1M401.3 529.9v5.5M398.8 530.1l5.1 5.1M398.8 535.2l5.1 -5.1M409.7 529.9v5.5M407.1 530.1l5.1 5.1M407.1 535.2l5.1 -5.1M418 529.8v5.5M415.5 530l5.1 5.1M415.5 535.1l5.1 -5.1M426.4 529.7v5.5M423.8 529.9l5.1 5.1M423.8 535l5.1 -5.1M434.7 529.6v5.5M432.2 529.8l5.1 5.1M432.2 534.9l5.1 -5.1M443.1 529.5v5.5M440.5 529.7l5.1 5.1M440.5 534.8l5.1 -5.1M451.4 529.5v5.5M448.8 529.7l5.1 5.1M448.8 534.8l5.1 -5.1" fill="none" stroke="#4a56a0" stroke-width="1.35" stroke-linecap="round" opacity="0.85"/><path d="M184.4 570.5v5.5M181.8 570.7l5.1 5.1M181.8 575.8l5.1 -5.1M192.7 567.7v5.5M190.2 567.9l5.1 5.1M190.2 573l5.1 -5.1M201.1 565.4v5.5M198.5 565.6l5.1 5.1M198.5 570.7l5.1 -5.1M209.4 564.1v5.5M206.9 564.3l5.1 5.1M206.9 569.4l5.1 -5.1M217.8 562.9v5.5M215.2 563.1l5.1 5.1M215.2 568.2l5.1 -5.1M226.1 562.3v5.5M223.6 562.5l5.1 5.1M223.6 567.6l5.1 -5.1M234.5 561.7v5.5M231.9 561.9l5.1 5.1M231.9 567l5.1 -5.1M242.8 561.2v5.5M240.3 561.4l5.1 5.1M240.3 566.5l5.1 -5.1M251.2 560.8v5.5M248.6 561l5.1 5.1M248.6 566.1l5.1 -5.1M259.5 560.5v5.5M256.9 560.7l5.1 5.1M256.9 565.8l5.1 -5.1M267.8 560.2v5.5M265.3 560.4l5.1 5.1M265.3 565.5l5.1 -5.1M276.2 559.9v5.5M273.6 560.1l5.1 5.1M273.6 565.2l5.1 -5.1M284.5 559.6v5.5M282 559.8l5.1 5.1M282 564.9l5.1 -5.1M292.9 559.4v5.5M290.3 559.6l5.1 5.1M290.3 564.7l5.1 -5.1M301.2 559.2v5.5M298.7 559.4l5.1 5.1M298.7 564.5l5.1 -5.1M309.6 559.1v5.5M307 559.3l5.1 5.1M307 564.4l5.1 -5.1M317.9 558.9v5.5M315.3 559.1l5.1 5.1M315.3 564.2l5.1 -5.1M326.2 558.7v5.5M323.7 558.9l5.1 5.1M323.7 564l5.1 -5.1M334.6 558.6v5.5M332 558.8l5.1 5.1M332 563.9l5.1 -5.1M342.9 558.4v5.5M340.4 558.6l5.1 5.1M340.4 563.7l5.1 -5.1M351.3 558.2v5.5M348.7 558.4l5.1 5.1M348.7 563.5l5.1 -5.1M359.6 558.1v5.5M357.1 558.3l5.1 5.1M357.1 563.4l5.1 -5.1M368 558v5.5M365.4 558.2l5.1 5.1M365.4 563.3l5.1 -5.1M376.3 558v5.5M373.8 558.2l5.1 5.1M373.8 563.3l5.1 -5.1M384.6 558v5.5M382.1 558.2l5.1 5.1M382.1 563.3l5.1 -5.1M393 558v5.5M390.4 558.2l5.1 5.1M390.4 563.3l5.1 -5.1M401.3 558v5.5M398.8 558.2l5.1 5.1M398.8 563.3l5.1 -5.1M409.7 557.9v5.5M407.1 558.1l5.1 5.1M407.1 563.2l5.1 -5.1M418 557.9v5.5M415.5 558.1l5.1 5.1M415.5 563.2l5.1 -5.1M426.4 557.9v5.5M423.8 558.1l5.1 5.1M423.8 563.2l5.1 -5.1M434.7 557.9v5.5M432.2 558.1l5.1 5.1M432.2 563.2l5.1 -5.1M443.1 557.9v5.5M440.5 558.1l5.1 5.1M440.5 563.2l5.1 -5.1M451.4 557.9v5.5M448.8 558.1l5.1 5.1M448.8 563.1l5.1 -5.1" fill="none" stroke="#5e9a4a" stroke-width="1.35" stroke-linecap="round" opacity="0.85"/><path d="M178.2 462.8v5.5M175.6 462.9l5.1 5.1M175.6 468.1l5.1 -5.1M178.2 462.8v5.5M175.7 462.9l5.1 5.1M175.7 468.1l5.1 -5.1" fill="none" stroke="#505050" stroke-width="1.2" stroke-linecap="round" opacity="0.6"/><path d="M176.8 624C176.8 622.7 176.7 621.1 177 616.3C177.3 611.5 177.2 600 178.6 595.2C180 590.4 182 590.2 185.3 587.6C188.7 585 193.3 582.5 198.7 579.9C204.1 577.3 211.4 574.5 217.8 572.3C224.2 570.1 229 567.9 237 566.5C245 565.1 254.5 564.2 265.7 563.9C276.9 563.5 288.3 564.4 304 564.4C319.7 564.4 335.4 564.3 360 563.7C384.6 563.1 436.2 561.1 451.4 560.6" fill="none" stroke="#468436" stroke-width="2.3" stroke-linejoin="round" stroke-linecap="round"/><path d="M176.8 600C176.9 597 177 586.8 177.3 582C177.6 577.2 177.9 573.9 178.6 571C179.3 568.1 180.4 566.6 181.5 564.5C182.6 562.4 183.7 560.4 185 558.5C186.3 556.6 186.8 555.3 189.1 553.1C191.4 550.9 193.9 548 198.7 545.5C203.5 543 211.4 539.9 217.8 537.8C224.2 535.7 230.6 534.5 237 533.1C243.4 531.7 249.7 530.4 256.1 529.6C262.5 528.8 267.2 528.4 275.2 528.2C283.2 528 291.5 528.1 304 528.4C316.5 528.7 334.2 529.8 350 529.8C365.8 529.8 381.8 529.7 398.7 528.4C415.6 527.1 442.6 523 451.4 521.9" fill="none" stroke="#303c90" stroke-width="2.4" stroke-linejoin="round" stroke-linecap="round"/><path d="M177 590C177.2 585.4 177.4 569.6 178.2 562.5C178.9 555.4 180.3 552.5 181.5 547.4C182.7 542.3 183.4 536.6 185.3 532.1C187.2 527.6 189.2 524.4 193 520.6C196.8 516.8 202.6 512.3 208.3 509.1C214 505.9 221 503.7 227.4 501.5C233.8 499.3 240.1 497.4 246.5 495.7C252.9 494 258.1 492.9 265.7 491.5C273.3 490.1 281.1 488.2 292.4 487C303.7 485.8 322 485 333.3 484.5C344.6 484 344.2 483.8 360 483.8C375.8 483.8 412.8 483.9 428 484.4C443.2 484.9 447.5 486.3 451.4 486.7" fill="none" stroke="#bc3a44" stroke-width="2.4" stroke-linejoin="round" stroke-linecap="round"/><path d="M177.6 560C177.7 557 178 547.5 178.2 542C178.4 536.5 178.5 533 179 527C179.5 521 179.9 513.2 181 506C182.1 498.8 183.1 491.4 185.3 484C187.6 476.6 190.9 468.2 194.5 461.8C198.1 455.4 202.3 450.6 206.7 445.5C211.1 440.4 215.2 436 221 431.2C226.8 426.4 234.6 421 241.4 416.9C248.2 412.8 255 409.8 261.8 406.7C268.6 403.6 273.7 401.2 282.2 398.6C290.7 396.1 303.3 393.1 312.9 391.4C322.5 389.7 328.1 389.7 340 388.6C351.9 387.5 365.7 385.8 384 384.7C402.3 383.6 439 382.7 450 382.3" fill="none" stroke="#1c1c1c" stroke-width="2.2" stroke-linejoin="round" stroke-linecap="round"/><path d="M176.3 361.6H519.4 V636.8" fill="none" stroke="#1a1a1a" stroke-width="1.1"/><path d="M176.3 361.1V636.8H519.9" fill="none" stroke="#1a1a1a" stroke-width="1.7"/><path d="M176.3 581.8h7M176.3 526.7h7M176.3 471.7h7M176.3 416.6h7M244.9 636.8v-7M313.5 636.8v-7M382.2 636.8v-7M450.8 636.8v-7" stroke="#1a1a1a" stroke-width="1.5" fill="none"/><text class="t tl" x="168.5" y="643.9" text-anchor="end">0</text><text class="t tl" x="168.5" y="589.3" text-anchor="end">54</text><text class="t tl" x="168.5" y="534.6" text-anchor="end">108</text><text class="t tl" x="168.5" y="480.5" text-anchor="end">162</text><text class="t tl" x="168.5" y="425.7" text-anchor="end">216</text><text class="t tl" x="168.5" y="369.6" text-anchor="end">270</text><text class="t tl" x="177.8" y="661.4" text-anchor="middle">0</text><text class="t tl" x="244.9" y="661.4" text-anchor="middle">0.3</text><text class="t tl" x="313.8" y="661.4" text-anchor="middle">0.6</text><text class="t tl" x="382.7" y="661.4" text-anchor="middle">0.9</text><text class="t tl" x="452.3" y="661.4" text-anchor="middle">1.2</text><text class="t tl" x="520.7" y="661.4" text-anchor="middle">1.5</text><text class="t ti" x="343" y="685">ε</text><text class="t ty" x="114.8" y="500.4" text-anchor="middle" transform="rotate(-90 114.8 500.4)"><tspan font-style="italic">σ</tspan>/MPa</text><text class="t tk" x="103.9" y="365.6">c</text><text class="t tr" x="193.1" y="388"><tspan font-style="italic">ε</tspan>=1 s<tspan font-size="12.5" dy="-6.8">−1</tspan></text><circle cx="197.5" cy="375.3" r="1.3" fill="#111"/><rect x="284.3" y="428.8" width="186.5" height="41.1" fill="#111"/><rect x="280.3" y="425.6" width="187.3" height="39.9" fill="#fff" stroke="#a0a0a0" stroke-width="1.1"/><text class="t tg" x="288.8" y="440.6">Solid line: experimental data</text><text class="t tg" x="288.8" y="459.1">Symbol: predicted data</text><text class="t tt" x="455.7" y="403.7">1 173 K</text><text class="t tt" x="453.6" y="491.7">1 273 K</text><text class="t tt" x="458" y="533.6">1 373 K</text><text class="t tt" x="458.6" y="564.1">1 473 K</text></g>
<g><path d="M655.3 457.1v5.5M652.8 457.2l5.1 5.1M652.8 462.4l5.1 -5.1M663.6 439.5v5.5M661.1 439.7l5.1 5.1M661.1 444.8l5.1 -5.1M671.9 426.1v5.5M669.4 426.3l5.1 5.1M669.4 431.4l5.1 -5.1M680.2 417.6v5.5M677.7 417.8l5.1 5.1M677.7 422.9l5.1 -5.1M688.6 412.4v5.5M686 412.6l5.1 5.1M686 417.7l5.1 -5.1M696.9 407.2v5.5M694.3 407.4l5.1 5.1M694.3 412.5l5.1 -5.1M705.2 403v5.5M702.6 403.2l5.1 5.1M702.6 408.3l5.1 -5.1M713.5 399.7v5.5M711 399.9l5.1 5.1M711 405l5.1 -5.1M721.8 397.1v5.5M719.3 397.3l5.1 5.1M719.3 402.4l5.1 -5.1M730.1 395v5.5M727.6 395.2l5.1 5.1M727.6 400.3l5.1 -5.1M738.5 393.4v5.5M735.9 393.6l5.1 5.1M735.9 398.7l5.1 -5.1M746.8 392.3v5.5M744.2 392.5l5.1 5.1M744.2 397.6l5.1 -5.1M755.1 391.5v5.5M752.5 391.7l5.1 5.1M752.5 396.8l5.1 -5.1M763.4 390.7v5.5M760.9 390.9l5.1 5.1M760.9 396l5.1 -5.1M771.7 390.1v5.5M769.2 390.3l5.1 5.1M769.2 395.4l5.1 -5.1M780 389.5v5.5M777.5 389.7l5.1 5.1M777.5 394.8l5.1 -5.1M788.3 389v5.5M785.8 389.2l5.1 5.1M785.8 394.3l5.1 -5.1M796.7 388.6v5.5M794.1 388.8l5.1 5.1M794.1 393.9l5.1 -5.1M805 388.3v5.5M802.4 388.5l5.1 5.1M802.4 393.6l5.1 -5.1M813.3 388.1v5.5M810.7 388.3l5.1 5.1M810.7 393.4l5.1 -5.1M821.6 387.9v5.5M819.1 388.1l5.1 5.1M819.1 393.2l5.1 -5.1M829.9 387.7v5.5M827.4 387.9l5.1 5.1M827.4 393l5.1 -5.1M838.2 387.9v5.5M835.7 388.1l5.1 5.1M835.7 393.2l5.1 -5.1M846.6 388.2v5.5M844 388.4l5.1 5.1M844 393.5l5.1 -5.1M854.9 388.5v5.5M852.3 388.7l5.1 5.1M852.3 393.8l5.1 -5.1M863.2 388.8v5.5M860.6 389l5.1 5.1M860.6 394.1l5.1 -5.1M871.5 389.1v5.5M869 389.3l5.1 5.1M869 394.4l5.1 -5.1M879.8 389.3v5.5M877.3 389.5l5.1 5.1M877.3 394.6l5.1 -5.1M888.1 389.6v5.5M885.6 389.8l5.1 5.1M885.6 394.9l5.1 -5.1M896.5 389.9v5.5M893.9 390.1l5.1 5.1M893.9 395.2l5.1 -5.1M904.8 390.2v5.5M902.2 390.4l5.1 5.1M902.2 395.5l5.1 -5.1M913.1 390.5v5.5M910.5 390.7l5.1 5.1M910.5 395.8l5.1 -5.1M921.4 390.8v5.5M918.9 390.9l5.1 5.1M918.9 396.1l5.1 -5.1" fill="none" stroke="#505050" stroke-width="1.35" stroke-linecap="round" opacity="0.85"/><path d="M654.3 514.2v5.5M651.8 514.5l5.1 5.1M651.8 519.5l5.1 -5.1M662.6 501.8v5.5M660.1 502l5.1 5.1M660.1 507.1l5.1 -5.1M671 495.1v5.5M668.4 495.3l5.1 5.1M668.4 500.4l5.1 -5.1M679.3 490.8v5.5M676.8 491l5.1 5.1M676.8 496.1l5.1 -5.1M687.7 487.1v5.5M685.1 487.3l5.1 5.1M685.1 492.4l5.1 -5.1M696 483.6v5.5M693.5 483.8l5.1 5.1M693.5 488.9l5.1 -5.1M704.4 480.3v5.5M701.8 480.5l5.1 5.1M701.8 485.6l5.1 -5.1M712.7 477.1v5.5M710.2 477.3l5.1 5.1M710.2 482.4l5.1 -5.1M721.1 475v5.5M718.5 475.2l5.1 5.1M718.5 480.3l5.1 -5.1M729.4 472.9v5.5M726.9 473.1l5.1 5.1M726.9 478.2l5.1 -5.1M737.8 471.7v5.5M735.2 471.9l5.1 5.1M735.2 477l5.1 -5.1M746.1 470.9v5.5M743.6 471.1l5.1 5.1M743.6 476.2l5.1 -5.1M754.5 470.1v5.5M751.9 470.3l5.1 5.1M751.9 475.4l5.1 -5.1M762.8 469.2v5.5M760.3 469.4l5.1 5.1M760.3 474.6l5.1 -5.1M771.2 469.2v5.5M768.6 469.4l5.1 5.1M768.6 474.6l5.1 -5.1M779.5 469.2v5.5M777 469.4l5.1 5.1M777 474.6l5.1 -5.1M787.8 469.2v5.5M785.3 469.4l5.1 5.1M785.3 474.6l5.1 -5.1M796.2 469.2v5.5M793.6 469.4l5.1 5.1M793.6 474.6l5.1 -5.1M804.5 469.2v5.5M802 469.4l5.1 5.1M802 474.6l5.1 -5.1M812.9 469.2v5.5M810.3 469.4l5.1 5.1M810.3 474.6l5.1 -5.1M821.2 469.2v5.5M818.7 469.4l5.1 5.1M818.7 474.6l5.1 -5.1M829.6 469.2v5.5M827 469.4l5.1 5.1M827 474.6l5.1 -5.1M837.9 469.4v5.5M835.4 469.6l5.1 5.1M835.4 474.7l5.1 -5.1M846.3 469.5v5.5M843.7 469.7l5.1 5.1M843.7 474.8l5.1 -5.1M854.6 469.7v5.5M852.1 469.9l5.1 5.1M852.1 475l5.1 -5.1M863 469.8v5.5M860.4 470l5.1 5.1M860.4 475.1l5.1 -5.1M871.3 469.9v5.5M868.8 470.1l5.1 5.1M868.8 475.2l5.1 -5.1M879.7 470.1v5.5M877.1 470.3l5.1 5.1M877.1 475.4l5.1 -5.1M888 470.2v5.5M885.5 470.4l5.1 5.1M885.5 475.5l5.1 -5.1M896.4 470.3v5.5M893.8 470.5l5.1 5.1M893.8 475.6l5.1 -5.1M904.7 470.5v5.5M902.2 470.7l5.1 5.1M902.2 475.8l5.1 -5.1M913.1 470.6v5.5M910.5 470.8l5.1 5.1M910.5 475.9l5.1 -5.1M921.4 470.8v5.5M918.9 470.9l5.1 5.1M918.9 476.1l5.1 -5.1" fill="none" stroke="#cc5560" stroke-width="1.35" stroke-linecap="round" opacity="0.85"/><path d="M656.3 544.2v5.5M653.8 544.5l5.1 5.1M653.8 549.5l5.1 -5.1M664.6 537.2v5.5M662 537.4l5.1 5.1M662 542.5l5.1 -5.1M672.9 532.5v5.5M670.3 532.7l5.1 5.1M670.3 537.8l5.1 -5.1M681.2 529.9v5.5M678.6 530.1l5.1 5.1M678.6 535.2l5.1 -5.1M689.4 527.2v5.5M686.9 527.4l5.1 5.1M686.9 532.5l5.1 -5.1M697.7 525.1v5.5M695.2 525.3l5.1 5.1M695.2 530.4l5.1 -5.1M706 523.1v5.5M703.5 523.3l5.1 5.1M703.5 528.4l5.1 -5.1M714.3 521.4v5.5M711.7 521.6l5.1 5.1M711.7 526.7l5.1 -5.1M722.6 520.3v5.5M720 520.5l5.1 5.1M720 525.6l5.1 -5.1M730.9 519.2v5.5M728.3 519.4l5.1 5.1M728.3 524.5l5.1 -5.1M739.1 518.6v5.5M736.6 518.8l5.1 5.1M736.6 523.9l5.1 -5.1M747.4 518.1v5.5M744.9 518.3l5.1 5.1M744.9 523.4l5.1 -5.1M755.7 517.8v5.5M753.2 518l5.1 5.1M753.2 523l5.1 -5.1M764 517.8v5.5M761.4 518l5.1 5.1M761.4 523l5.1 -5.1M772.3 517.8v5.5M769.7 518l5.1 5.1M769.7 523l5.1 -5.1M780.6 517.8v5.5M778 518l5.1 5.1M778 523l5.1 -5.1M788.8 517.8v5.5M786.3 518l5.1 5.1M786.3 523.1l5.1 -5.1M797.1 517.9v5.5M794.6 518.1l5.1 5.1M794.6 523.2l5.1 -5.1M805.4 518v5.5M802.9 518.2l5.1 5.1M802.9 523.3l5.1 -5.1M813.7 518.1v5.5M811.2 518.3l5.1 5.1M811.2 523.4l5.1 -5.1M822 518.2v5.5M819.4 518.4l5.1 5.1M819.4 523.5l5.1 -5.1M830.3 518.3v5.5M827.7 518.5l5.1 5.1M827.7 523.6l5.1 -5.1M838.6 518.3v5.5M836 518.5l5.1 5.1M836 523.6l5.1 -5.1M846.8 518.3v5.5M844.3 518.5l5.1 5.1M844.3 523.6l5.1 -5.1M855.1 518.4v5.5M852.6 518.6l5.1 5.1M852.6 523.7l5.1 -5.1M863.4 518.4v5.5M860.9 518.6l5.1 5.1M860.9 523.7l5.1 -5.1M871.7 518.5v5.5M869.1 518.7l5.1 5.1M869.1 523.8l5.1 -5.1M880 518.5v5.5M877.4 518.7l5.1 5.1M877.4 523.8l5.1 -5.1M888.3 518.6v5.5M885.7 518.8l5.1 5.1M885.7 523.9l5.1 -5.1M896.5 518.6v5.5M894 518.8l5.1 5.1M894 523.9l5.1 -5.1M904.8 518.7v5.5M902.3 518.9l5.1 5.1M902.3 524l5.1 -5.1M913.1 518.7v5.5M910.6 518.9l5.1 5.1M910.6 524l5.1 -5.1M921.4 518.8v5.5M918.9 519l5.1 5.1M918.9 524l5.1 -5.1" fill="none" stroke="#4a56a0" stroke-width="1.35" stroke-linecap="round" opacity="0.85"/><path d="M656.3 569.2v5.5M653.8 569.5l5.1 5.1M653.8 574.5l5.1 -5.1M664.6 563.1v5.5M662 563.3l5.1 5.1M662 568.4l5.1 -5.1M672.9 560v5.5M670.3 560.2l5.1 5.1M670.3 565.3l5.1 -5.1M681.2 557.6v5.5M678.6 557.8l5.1 5.1M678.6 562.9l5.1 -5.1M689.4 555.3v5.5M686.9 555.5l5.1 5.1M686.9 560.6l5.1 -5.1M697.7 553.5v5.5M695.2 553.7l5.1 5.1M695.2 558.8l5.1 -5.1M706 551.8v5.5M703.5 552l5.1 5.1M703.5 557.1l5.1 -5.1M714.3 550.3v5.5M711.7 550.5l5.1 5.1M711.7 555.6l5.1 -5.1M722.6 549.2v5.5M720 549.4l5.1 5.1M720 554.5l5.1 -5.1M730.9 548v5.5M728.3 548.2l5.1 5.1M728.3 553.3l5.1 -5.1M739.1 547.5v5.5M736.6 547.7l5.1 5.1M736.6 552.8l5.1 -5.1M747.4 547v5.5M744.9 547.2l5.1 5.1M744.9 552.3l5.1 -5.1M755.7 546.7v5.5M753.2 546.9l5.1 5.1M753.2 552l5.1 -5.1M764 546.6v5.5M761.4 546.8l5.1 5.1M761.4 551.9l5.1 -5.1M772.3 546.4v5.5M769.7 546.6l5.1 5.1M769.7 551.7l5.1 -5.1M780.6 546.3v5.5M778 546.5l5.1 5.1M778 551.6l5.1 -5.1M788.8 546.2v5.5M786.3 546.5l5.1 5.1M786.3 551.5l5.1 -5.1M797.1 546.2v5.5M794.6 546.5l5.1 5.1M794.6 551.5l5.1 -5.1M805.4 546.2v5.5M802.9 546.5l5.1 5.1M802.9 551.5l5.1 -5.1M813.7 546.2v5.5M811.2 546.5l5.1 5.1M811.2 551.5l5.1 -5.1M822 546.2v5.5M819.4 546.5l5.1 5.1M819.4 551.5l5.1 -5.1M830.3 546.3v5.5M827.7 546.5l5.1 5.1M827.7 551.6l5.1 -5.1M838.6 546.3v5.5M836 546.5l5.1 5.1M836 551.6l5.1 -5.1M846.8 546.4v5.5M844.3 546.6l5.1 5.1M844.3 551.7l5.1 -5.1M855.1 546.5v5.5M852.6 546.7l5.1 5.1M852.6 551.8l5.1 -5.1M863.4 546.6v5.5M860.9 546.8l5.1 5.1M860.9 551.9l5.1 -5.1M871.7 546.7v5.5M869.1 546.9l5.1 5.1M869.1 552l5.1 -5.1M880 546.8v5.5M877.4 547l5.1 5.1M877.4 552.1l5.1 -5.1M888.3 546.9v5.5M885.7 547.1l5.1 5.1M885.7 552.2l5.1 -5.1M896.5 547v5.5M894 547.2l5.1 5.1M894 552.3l5.1 -5.1M904.8 547.1v5.5M902.3 547.3l5.1 5.1M902.3 552.4l5.1 -5.1M913.1 547.2v5.5M910.6 547.4l5.1 5.1M910.6 552.5l5.1 -5.1M921.4 547.2v5.5M918.9 547.5l5.1 5.1M918.9 552.5l5.1 -5.1" fill="none" stroke="#5e9a4a" stroke-width="1.35" stroke-linecap="round" opacity="0.85"/><path d="M649.6 515.2v5.5M647.1 515.5l5.1 5.1M647.1 520.5l5.1 -5.1M649.6 515.2v5.5M647.1 515.5l5.1 5.1M647.1 520.5l5.1 -5.1" fill="none" stroke="#505050" stroke-width="1.2" stroke-linecap="round" opacity="0.6"/><path d="M648.2 620C648.2 617.1 647.9 608.7 648.4 602.4C648.9 596.1 650.1 586.8 651.2 582C652.4 577.2 653.4 576.4 655.3 573.9C657.2 571.4 659.8 568.4 662.4 566.7C665 565 665.8 565.2 670.6 563.7C675.4 562.2 684.2 559.3 691 557.6C697.8 555.9 704.6 554.7 711.4 553.5C718.2 552.3 725 551.2 731.8 550.4C738.6 549.6 743.7 548.9 752.2 548.6C760.7 548.3 769.9 548.2 782.9 548.4C795.9 548.6 806.9 549.3 830 549.8C853.1 550.3 906.2 551 921.4 551.2" fill="none" stroke="#468436" stroke-width="2.3" stroke-linejoin="round" stroke-linecap="round"/><path d="M648.4 610C648.5 605.3 648.6 590.1 649.2 582C649.8 573.9 651 567 652.2 561.6C653.4 556.2 654.6 552.8 656.3 549.4C658 546 660 543.4 662.4 541.2C664.8 539 665.8 538.1 670.6 536.1C675.4 534.1 684.2 531 691 529C697.8 527 704.6 525.3 711.4 523.9C718.2 522.5 725 521.6 731.8 520.8C738.6 520 743.7 519.5 752.2 519.2C760.7 518.9 769.9 518.7 782.9 518.8C795.9 518.9 806.9 519.3 830 519.8C853.1 520.3 906.2 521.3 921.4 521.6" fill="none" stroke="#303c90" stroke-width="2.4" stroke-linejoin="round" stroke-linecap="round"/><path d="M648.2 635C648.4 627.5 648.9 602.2 649.2 590C649.5 577.8 649.5 571.4 650.2 561.6C650.9 551.8 652.3 538.9 653.3 531C654.3 523.1 654.8 518.8 656.3 514C657.8 509.2 660 505.3 662.4 502.5C664.8 499.7 665.8 499.6 670.6 497C675.4 494.4 684.2 489.6 691 486.7C697.8 483.8 704.6 481.7 711.4 479.6C718.2 477.5 725 475.5 731.8 474.1C738.6 472.7 743.7 471.8 752.2 471C760.7 470.2 769.9 469.4 782.9 469.4C795.9 469.4 806.9 470.2 830 471C853.1 471.8 906.2 473.5 921.4 474" fill="none" stroke="#bc3a44" stroke-width="2.4" stroke-linejoin="round" stroke-linecap="round"/><path d="M648.4 600C648.5 593.3 648.9 571.7 649.2 560C649.5 548.3 649.7 540.6 650.2 530C650.7 519.4 651.2 506.8 652.2 496.5C653.2 486.2 654.6 476.5 656.3 468C658 459.5 660 451.6 662.4 445.5C664.8 439.4 667.5 435.3 670.6 431.2C673.7 427.1 676.4 424.2 680.8 421C685.2 417.8 691 414.5 697.1 411.8C703.2 409.1 710.1 406.7 717.6 404.7C725.1 402.7 732.8 401 742 399.6C751.2 398.2 758 397.2 772.7 396.5C787.4 395.8 805.2 395.4 830 395.3C854.8 395.2 906.2 395.7 921.4 395.8" fill="none" stroke="#1c1c1c" stroke-width="2.2" stroke-linejoin="round" stroke-linecap="round"/><path d="M647.6 362.8H989 V635.5" fill="none" stroke="#1a1a1a" stroke-width="1.1"/><path d="M647.6 362.3V635.5H989.5" fill="none" stroke="#1a1a1a" stroke-width="1.7"/><path d="M647.6 581h7M647.6 526.4h7M647.6 471.9h7M647.6 417.3h7M715.9 635.5v-7M784.2 635.5v-7M852.4 635.5v-7M920.7 635.5v-7" stroke="#1a1a1a" stroke-width="1.5" fill="none"/><text class="t tl" x="639.2" y="643.9" text-anchor="end">0</text><text class="t tl" x="639.2" y="589.3" text-anchor="end">64</text><text class="t tl" x="639.2" y="534.7" text-anchor="end">128</text><text class="t tl" x="639.2" y="480.2" text-anchor="end">192</text><text class="t tl" x="639.2" y="425.5" text-anchor="end">256</text><text class="t tl" x="639.2" y="370.3" text-anchor="end">320</text><text class="t tl" x="649.1" y="660.9" text-anchor="middle">0</text><text class="t tl" x="715.9" y="660.9" text-anchor="middle">0.3</text><text class="t tl" x="784.5" y="660.9" text-anchor="middle">0.6</text><text class="t tl" x="852.9" y="660.9" text-anchor="middle">0.9</text><text class="t tl" x="922.2" y="660.9" text-anchor="middle">1.2</text><text class="t tl" x="990.3" y="660.9" text-anchor="middle">1.5</text><text class="t ti" x="817.2" y="685">ε</text><text class="t ty" x="587.3" y="497.8" text-anchor="middle" transform="rotate(-90 587.3 497.8)"><tspan font-style="italic">σ</tspan>/MPa</text><text class="t tk" x="575.3" y="365.6">d</text><text class="t tr" x="659.2" y="384.5"><tspan font-style="italic">ε</tspan>=10 s<tspan font-size="12.5" dy="-6.8">−1</tspan></text><circle cx="663.6" cy="371.8" r="1.3" fill="#111"/><rect x="751.7" y="417.9" width="186.1" height="41.5" fill="#111"/><rect x="747.7" y="414.7" width="186.9" height="40.3" fill="#fff" stroke="#a0a0a0" stroke-width="1.1"/><text class="t tg" x="756.6" y="430">Solid line: experimental data</text><text class="t tg" x="756.6" y="448.2">Symbol: predicted data</text><text class="t tt" x="926.3" y="403.7">1 173 K</text><text class="t tt" x="927.2" y="480">1 273 K</text><text class="t tt" x="927.2" y="530.7">1 373 K</text><text class="t tt" x="925.7" y="557.7">1 473 K</text></g>
<g class="cj" fill="#111" transform="translate(0 720.3) scale(1 0.92) translate(0 -720.3)"><text x="117.4" y="720.6" font-size="25">图</text><text x="146.9" y="720.6" font-size="25">7</text><text x="186.7" y="720.3" font-size="25">不同应变速率下实验流变应力与新提出的本构模型预测流变应力的比较</text><text x="961.8" y="711.6" font-size="17">[9]</text></g>
<text x="550.3" y="751" text-anchor="middle" font-size="23" letter-spacing="0.9" class="t tc">Fig.7 Comparison of experimental flow stress with predicted flow stress by the newly proposed constitutive</text>
<text x="550.3" y="778.3" text-anchor="middle" font-size="23" letter-spacing="0.9" class="t tc">model at the different strain rate<tspan font-size="14" dy="-10">[9]</tspan></text>
</svg></body></html>
